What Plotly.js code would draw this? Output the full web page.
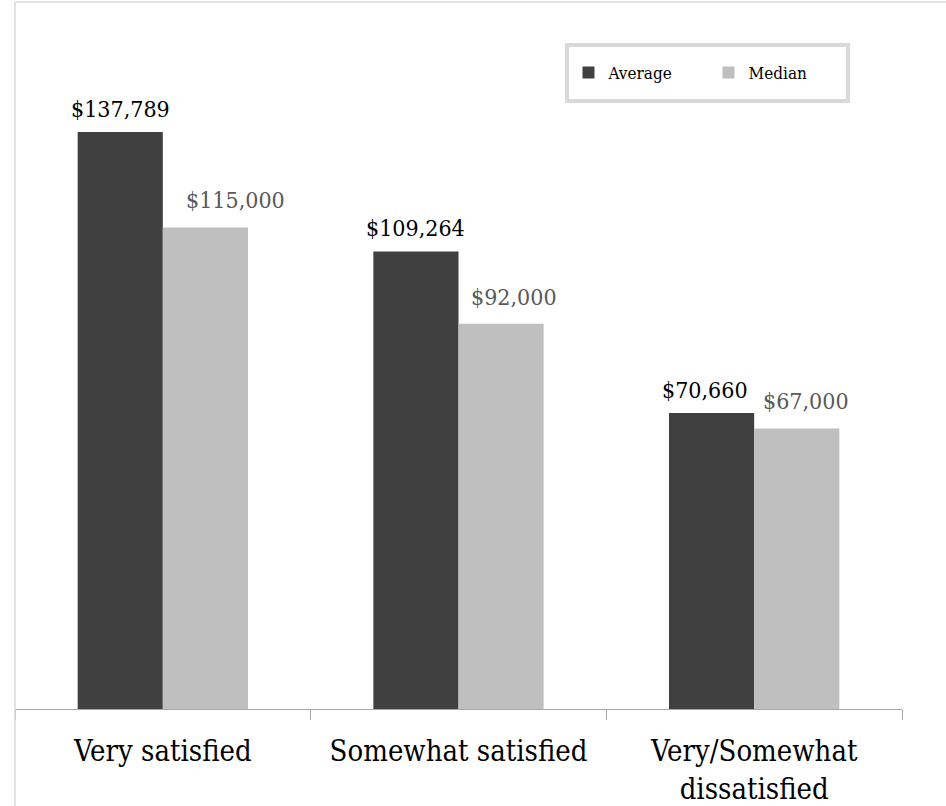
<!DOCTYPE html>
<html>
<head>
<meta charset="utf-8">
<script src="https://cdn.plot.ly/plotly-3.0.1.min.js"></script>
<style>
html, body { margin: 0; padding: 0; background: #ffffff; }
#chart { width: 946px; height: 806px; }
</style>
</head>
<body>
<div id="chart"></div>
<script>
// ---- data ----
var categories = ["Very satisfied", "Somewhat satisfied", "Very/Somewhat<br>dissatisfied"];
var averageValues = [137789, 109264, 70660];
var medianValues = [115000, 92000, 67000];
var averageLabels = ["$137,789", "$109,264", "$70,660"];
var medianLabels = ["$115,000", "$92,000", "$67,000"];

// ---- styling ----
var FONT = "'DejaVu Serif Condensed', 'Liberation Serif', serif";
var darkColor = "#404040";
var lightColor = "#bfbfbf";
var bargap = 0.424;
var barHalf = (1 - bargap) / 4;
var avgLabelNudge = [0, 0, -7];
var medLabelNudge = [30, 13, 9];

var traces = [
  { type: "bar", name: "Average", x: categories, y: averageValues,
    marker: { color: darkColor }, hoverinfo: "skip" },
  { type: "bar", name: "Median", x: categories, y: medianValues,
    marker: { color: lightColor }, hoverinfo: "skip" }
];

var annotations = [];
categories.forEach(function (c, i) {
  annotations.push({ x: i - barHalf, y: averageValues[i], xref: "x", yref: "y",
    text: averageLabels[i], showarrow: false, yanchor: "middle", yshift: 23,
    xshift: avgLabelNudge[i], font: { family: FONT, size: 23, color: "#000000" } });
  annotations.push({ x: i + barHalf, y: medianValues[i], xref: "x", yref: "y",
    text: medianLabels[i], showarrow: false, yanchor: "middle", yshift: 27,
    xshift: medLabelNudge[i], font: { family: FONT, size: 23, color: "#595959" } });
});

var layout = {
  width: 946, height: 806,
  margin: { l: 15, r: 44, t: 2, b: 97 },
  paper_bgcolor: "#ffffff", plot_bgcolor: "#ffffff",
  font: { family: FONT, color: "#000000" },
  barmode: "group", bargap: bargap, bargroupgap: 0,
  showlegend: true,
  legend: {
    orientation: "h", x: 0.624, xanchor: "left", y: 0.8996, yanchor: "middle",
    bgcolor: "rgba(0,0,0,0)", borderwidth: 0,
    font: { family: FONT, size: 17, color: "#000000" },
    itemwidth: 30, entrywidth: 95, traceorder: "normal"
  },
  xaxis: {
    type: "category", showgrid: false, zeroline: false,
    showline: true, linecolor: "#a6a6a6", linewidth: 1,
    ticks: "outside", tickson: "boundaries", ticklen: 10, tickcolor: "#a6a6a6", tickwidth: 1,
    ticklabelstandoff: 16,
    tickfont: { family: FONT, size: 29, color: "#000000" },
    fixedrange: true
  },
  yaxis: {
    range: [0, 168833], visible: false, showgrid: false, zeroline: false, fixedrange: true
  },
  annotations: annotations,
  shapes: [
    { type: "line", xref: "paper", yref: "paper", x0: 0, x1: 1.2, y0: 1, y1: 1,
      line: { color: "#d9d9d9", width: 1.5 } },
    { type: "line", xref: "paper", yref: "paper", x0: 0, x1: 0, y0: 1, y1: -0.3,
      line: { color: "#d9d9d9", width: 1.5 } },
    { type: "rect", xref: "paper", yref: "paper", x0: 0.6223, x1: 0.9391, y0: 0.860, y1: 0.9392,
      line: { color: "#d9d9d9", width: 4 }, fillcolor: "rgba(0,0,0,0)", layer: "below" }
  ]
};

Plotly.newPlot("chart", traces, layout, { displayModeBar: false, staticPlot: true });
</script>
</body>
</html>
